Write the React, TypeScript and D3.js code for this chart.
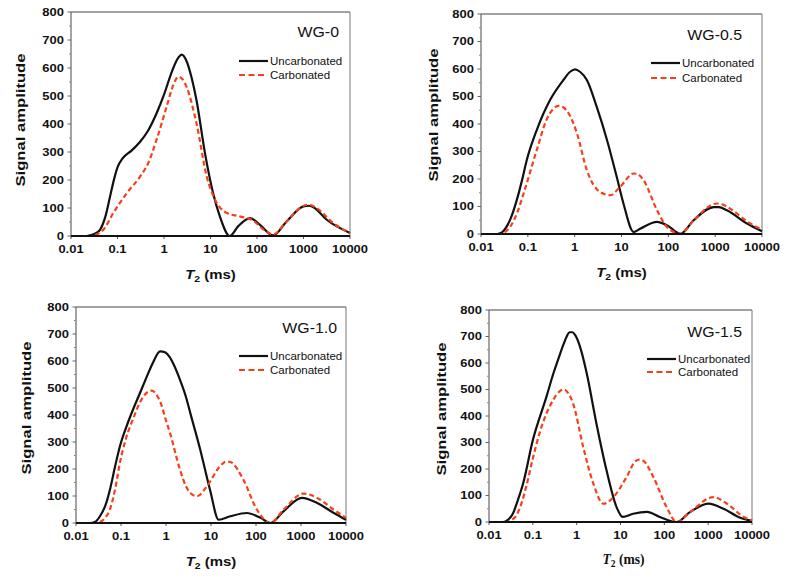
import React from "react";
import * as d3 from "d3";

// ---------- DATA (T2 in ms, signal amplitude) ----------
const xTicks = [0.01, 0.1, 1, 10, 100, 1000, 10000];
const xTickLabels = ["0.01", "0.1", "1", "10", "100", "1000", "10000"];
const yTicks = [0, 100, 200, 300, 400, 500, 600, 700, 800];
const yMinorTicks = [50, 150, 250, 350, 450, 550, 650, 750];
const seriesNames = ["Uncarbonated", "Carbonated"];
const panelNames = ["WG-0", "WG-0.5", "WG-1.0", "WG-1.5"];

const wg0Unc: [number, number][] = [
  [0.01, 0], [0.022, 0], [0.027, 3], [0.034, 10], [0.042, 22], [0.055, 70], [0.069, 140],
  [0.085, 205], [0.1, 245], [0.13, 278], [0.2, 305], [0.3, 335], [0.45, 375], [0.7, 440],
  [1.0, 505], [1.5, 590], [2.0, 635], [2.4, 648], [3.0, 628], [4.0, 560], [5.0, 485],
  [7.6, 296], [11.5, 150], [15.9, 70], [26, 0], [40, 36], [71, 64], [116, 40], [222, 2],
  [433, 52], [1000, 106], [1300, 108], [1630, 103], [3160, 58], [10000, 11],
];
const wg0Car: [number, number][] = [
  [0.01, 0], [0.025, 0], [0.03, 2], [0.04, 10], [0.05, 23], [0.081, 82], [0.158, 153],
  [0.305, 212], [0.457, 260], [0.69, 343], [1.14, 462], [1.58, 539], [2.04, 569], [2.5, 560],
  [3.1, 530], [5.0, 402], [8.3, 212], [12.6, 129], [22.4, 82], [42.7, 70], [83, 55],
  [138, 23], [224, 6], [436, 52], [1070, 110], [1300, 112], [1900, 100], [4370, 46], [10000, 11],
];
const wg05Unc: [number, number][] = [
  [0.01, 0], [0.022, 0], [0.028, 6], [0.035, 26], [0.045, 65], [0.058, 123], [0.075, 195],
  [0.095, 269], [0.155, 378], [0.3, 488], [0.575, 560], [0.8, 590], [1.02, 599], [1.3, 590],
  [1.82, 560], [2.95, 463], [4.9, 342], [7.9, 208], [11, 111], [18.2, 7], [25, 19], [57.5, 44],
  [93, 32], [182, 1], [347, 50], [933, 98], [1200, 98], [1780, 86], [4790, 38], [10000, 10],
];
const wg05Car: [number, number][] = [
  [0.01, 0], [0.026, 0], [0.033, 8], [0.042, 26], [0.06, 80], [0.081, 147], [0.155, 305],
  [0.25, 415], [0.35, 455], [0.45, 466], [0.58, 460], [0.74, 439], [1.12, 366], [1.82, 232],
  [3.47, 153], [5.75, 141], [9.3, 171], [18.2, 220], [22, 218], [29.5, 196], [57.5, 86], [93, 26],
  [182, 1], [347, 50], [1100, 111], [1400, 108], [2090, 92], [5620, 38], [10000, 16],
];
const wg10Unc: [number, number][] = [
  [0.01, 0], [0.02, 0], [0.027, 5], [0.034, 25], [0.045, 65], [0.058, 130], [0.074, 210],
  [0.095, 285], [0.134, 360], [0.19, 425], [0.27, 485], [0.37, 540], [0.5, 590], [0.74, 636],
  [0.95, 632], [1.2, 615], [1.5, 585], [2.04, 531], [2.8, 465], [3.47, 407], [5.75, 272],
  [9.5, 123], [14.8, 12], [27, 25], [63, 37], [126, 19], [209, 0], [407, 43], [1050, 93],
  [2290, 74], [5370, 37], [10000, 12],
];
const wg10Car: [number, number][] = [
  [0.01, 0], [0.026, 0], [0.035, 5], [0.045, 20], [0.058, 55], [0.075, 130], [0.095, 225],
  [0.13, 315], [0.19, 390], [0.27, 450], [0.36, 480], [0.48, 490], [0.6, 478], [0.74, 450],
  [1.0, 380], [1.23, 333], [2.04, 198], [2.8, 135], [3.47, 111], [4.9, 99], [8.1, 136],
  [15.8, 210], [22, 228], [27, 226], [52.5, 160], [105, 49], [209, 0], [407, 49], [1150, 109],
  [2290, 93], [5370, 49], [10000, 19],
];
const wg15Unc: [number, number][] = [
  [0.01, 0], [0.021, 0], [0.027, 8], [0.035, 31], [0.045, 80], [0.06, 145], [0.1, 309],
  [0.204, 472], [0.3, 565], [0.4, 625], [0.5, 670], [0.6, 702], [0.69, 716], [0.8, 716],
  [0.9, 708], [1.0, 695], [1.3, 640], [1.7, 560], [2.82, 372], [4.8, 195], [8.1, 57],
  [11.2, 19], [19.5, 31], [40, 38], [79, 19], [190, 0], [389, 38], [1020, 69], [2240, 50],
  [5370, 16], [10000, 4],
];
const wg15Car: [number, number][] = [
  [0.01, 0], [0.025, 0], [0.032, 6], [0.042, 25], [0.055, 70], [0.071, 135], [0.1, 240],
  [0.145, 340], [0.29, 460], [0.4, 492], [0.52, 500], [0.65, 485], [0.83, 447], [1.41, 283],
  [2.4, 145], [4.07, 69], [6.9, 94], [13.8, 170], [22, 230], [28, 236], [35, 228], [56, 170],
  [112, 57], [190, 0], [389, 38], [1320, 94], [2690, 69], [6460, 19], [10000, 6],
];

// ---------- LAYOUT ----------
type Panel = {
  name: string;
  unc: [number, number][];
  car: [number, number][];
  left: number; right: number; top: number; bottom: number;
  nameRight: number; nameDy: number;
  legX: number; legY1: number; legY2: number;
  yTitleX: number; yTitleY: number;
  xTitleSerif: boolean;
};

const panels: Panel[] = [
  { name: panelNames[0], unc: wg0Unc, car: wg0Car, left: 71, right: 350, top: 12, bottom: 236,
    nameRight: 339, nameDy: 25, legX: 239, legY1: 61, legY2: 75, yTitleX: 24.5, yTitleY: 120, xTitleSerif: false },
  { name: panelNames[1], unc: wg05Unc, car: wg05Car, left: 481, right: 762, top: 14, bottom: 234,
    nameRight: 742, nameDy: 26, legX: 651, legY1: 63, legY2: 78, yTitleX: 437.5, yTitleY: 115, xTitleSerif: false },
  { name: panelNames[2], unc: wg10Unc, car: wg10Car, left: 76, right: 346, top: 307, bottom: 523,
    nameRight: 337, nameDy: 25.5, legX: 239, legY1: 356, legY2: 370, yTitleX: 31, yTitleY: 408, xTitleSerif: false },
  { name: panelNames[3], unc: wg15Unc, car: wg15Car, left: 489, right: 752, top: 310, bottom: 522,
    nameRight: 742, nameDy: 26.7, legX: 647, legY1: 359, legY2: 372, yTitleX: 446, yTitleY: 409, xTitleSerif: true },
];

const SANS = "'Liberation Sans', Arial, Helvetica, sans-serif";
const SERIF = "'Liberation Serif', 'Times New Roman', serif";
const RED = "#f5401b";

function PanelView({ p }: { p: Panel }) {
  const x = d3.scaleLog().domain([0.01, 10000]).range([p.left, p.right]);
  const y = d3.scaleLinear().domain([0, 800]).range([p.bottom, p.top]);
  const line = d3
    .line<[number, number]>()
    .x((d) => x(d[0]))
    .y((d) => y(d[1]))
    .curve(d3.curveMonotoneX);
  const sx = 1.18;
  const cx = (p.left + p.right) / 2;
  return (
    <g>
      {/* frame */}
      <line x1={p.left} x2={p.right} y1={p.top} y2={p.top} stroke="#444" strokeWidth={1} />
      <line x1={p.right} x2={p.right} y1={p.top} y2={p.bottom} stroke="#777" strokeWidth={1} />
      <line x1={p.left} x2={p.left} y1={p.top} y2={p.bottom} stroke="#666" strokeWidth={1.2} />
      {/* y ticks */}
      {yTicks.map((t) => (
        <g key={"y" + t}>
          <line x1={p.left - 3.5} x2={p.left} y1={y(t)} y2={y(t)} stroke="#666" strokeWidth={1} />
          <text
            transform={`translate(${p.left - 7},${y(t) + 3.9}) scale(${sx},1)`}
            textAnchor="end"
            fontFamily={SANS}
            fontWeight="bold"
            fontSize={11}
            fill="#111"
          >
            {t}
          </text>
        </g>
      ))}
      {yMinorTicks.map((t) => (
        <line key={"ym" + t} x1={p.left - 2} x2={p.left} y1={y(t)} y2={y(t)} stroke="#888" strokeWidth={1} />
      ))}
      {/* x ticks */}
      {xTicks.map((t, i) => (
        <g key={"x" + t}>
          <line x1={x(t)} x2={x(t)} y1={p.bottom} y2={p.bottom + 3} stroke="#555" strokeWidth={1} />
          <text
            transform={`translate(${x(t)},${p.bottom + 16.5}) scale(${sx},1)`}
            textAnchor="middle"
            fontFamily={SANS}
            fontWeight="bold"
            fontSize={11}
            fill="#111"
          >
            {xTickLabels[i]}
          </text>
        </g>
      ))}
      {/* curves */}
      <path d={line(p.unc) || ""} fill="none" stroke="#111" strokeWidth={2.2} strokeLinejoin="round" />
      <path d={line(p.car) || ""} fill="none" stroke={RED} strokeWidth={2.2} strokeDasharray="5,3" />
      {/* bottom axis on top */}
      <line x1={p.left} x2={p.right} y1={p.bottom} y2={p.bottom} stroke="#111" strokeWidth={1.8} />
      {/* panel name */}
      <text
        transform={`translate(${p.nameRight},${p.top + p.nameDy}) scale(1.06,1)`}
        textAnchor="end"
        fontFamily={SANS}
        fontSize={15}
        fill="#111"
      >
        {p.name}
      </text>
      {/* legend */}
      <line x1={p.legX} x2={p.legX + 29} y1={p.legY1} y2={p.legY1} stroke="#111" strokeWidth={2.2} />
      <text x={p.legX + 31} y={p.legY1 + 4} fontFamily={SANS} fontSize={11.5} fill="#111">
        {seriesNames[0]}
      </text>
      <line x1={p.legX} x2={p.legX + 25} y1={p.legY2} y2={p.legY2} stroke={RED} strokeWidth={2.2} strokeDasharray="6,3.5" />
      <text x={p.legX + 31} y={p.legY2 + 4} fontFamily={SANS} fontSize={11.5} fill="#111">
        {seriesNames[1]}
      </text>
      {/* y title */}
      <text
        transform={`translate(${p.yTitleX},${p.yTitleY}) rotate(-90)`}
        textAnchor="middle"
        fontFamily={SANS}
        fontWeight="bold"
        fontSize={13.5}
        textLength={133}
        lengthAdjust="spacingAndGlyphs"
        fill="#111"
      >
        Signal amplitude
      </text>
      {/* x title */}
      {p.xTitleSerif ? (
        <text
          x={cx + 3}
          y={p.bottom + 42}
          textAnchor="middle"
          fontFamily={SERIF}
          fontWeight="bold"
          fontSize={13.6}
          fill="#111"
        >
          <tspan fontStyle="italic">T</tspan>
          <tspan fontSize={9.5} dy={3}>2</tspan>
          <tspan dy={-3}> (ms)</tspan>
        </text>
      ) : (
        <text
          transform={`translate(${cx},${p.bottom + 43}) scale(1.15,1)`}
          textAnchor="middle"
          fontFamily={SANS}
          fontWeight="bold"
          fontSize={13}
          fill="#111"
        >
          <tspan fontStyle="italic">T</tspan>
          <tspan fontSize={9} dy={3}>2</tspan>
          <tspan dy={-3}> (ms)</tspan>
        </text>
      )}
    </g>
  );
}

export default function App() {
  return (
    <svg
      width={800}
      height={580}
      viewBox="0 0 800 580"
      style={{ position: "absolute", left: 0, top: 0, background: "#fff" }}
    >
      <rect x={0} y={0} width={800} height={580} fill="#fff" />
      {panels.map((p) => (
        <PanelView key={p.name} p={p} />
      ))}
    </svg>
  );
}
